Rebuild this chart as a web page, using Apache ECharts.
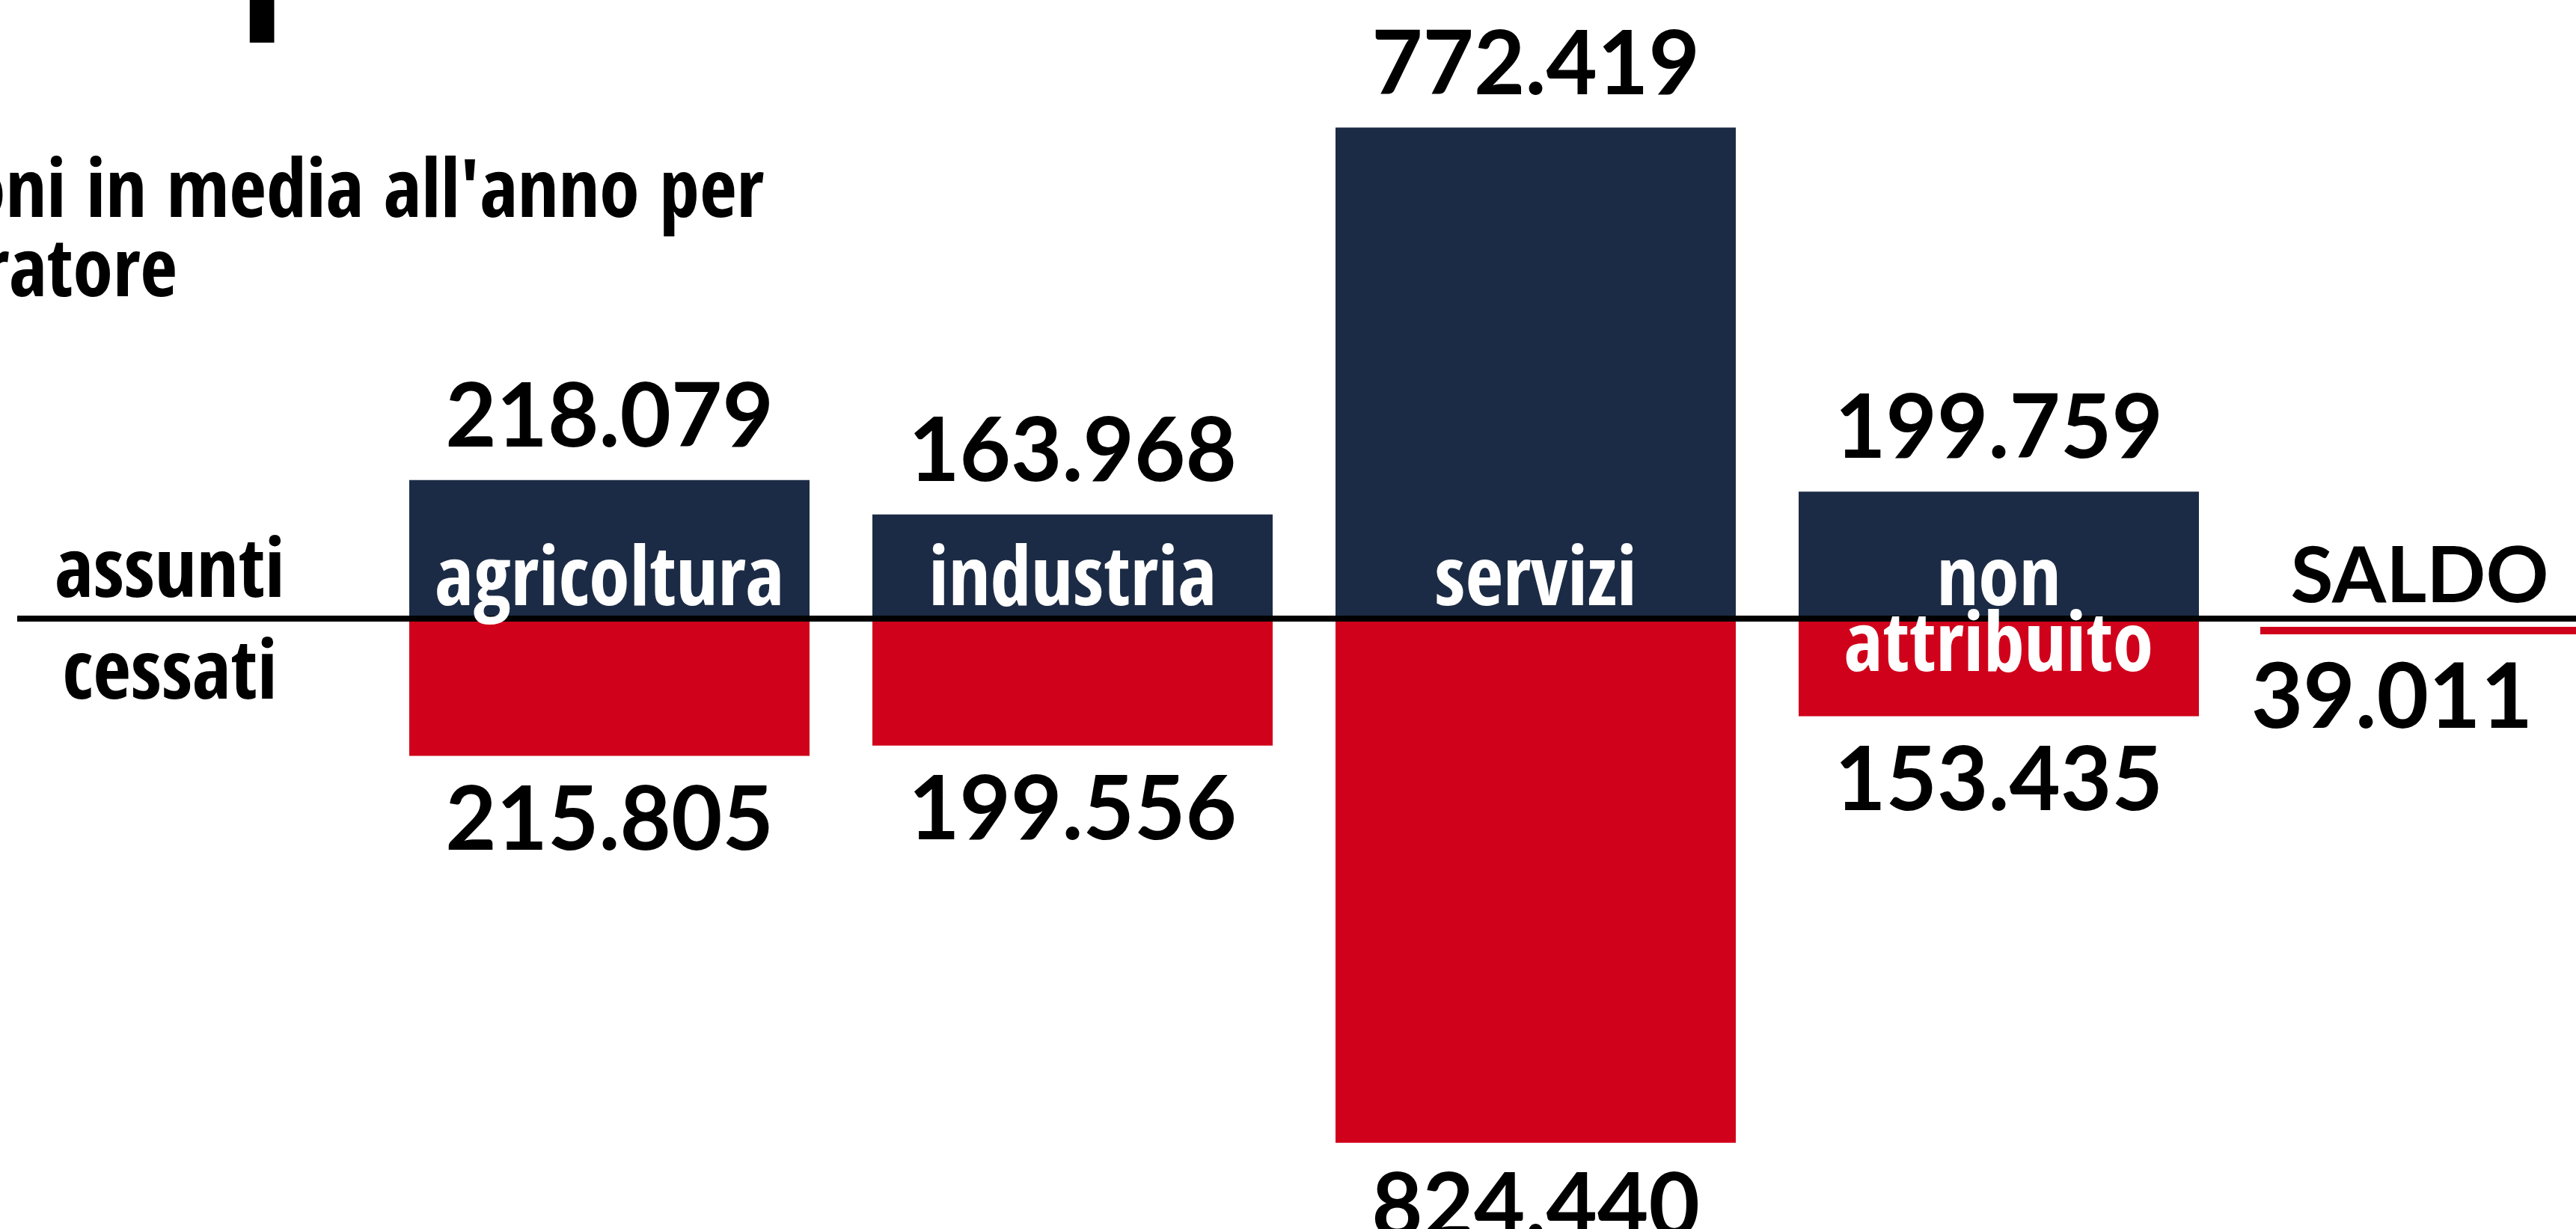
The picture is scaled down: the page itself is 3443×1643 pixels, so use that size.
<!DOCTYPE html>
<html>
<head>
<meta charset="utf-8">
<script src="https://cdn.jsdelivr.net/npm/echarts@6/dist/echarts.min.js"></script>
<style>
  html, body { margin: 0; padding: 0; background: #fff; }
  #chart { width: 3443px; height: 1643px; }
</style>
</head>
<body>
<div id="chart"></div>
<script>
// Settori e flussi medi annui (assunti / cessati)
const settori = ['agricoltura', 'industria', 'servizi', 'non attribuito'];
const assunti = [218079, 163968, 772419, 199759];
const cessati = [215805, 199556, 824440, 153435];

// Saldo complessivo: assunti meno cessati
const saldo = assunti.reduce((a, b) => a + b, 0) - cessati.reduce((a, b) => a + b, 0);

const NAVY = '#1c2b45';
const RED = '#d0021b';
const NUM_FONT = "Lato, 'Noto Sans', sans-serif";
const TXT_FONT = "'Open Sans Condensed', 'Noto Sans Condensed', 'Liberation Sans Narrow', Lato, sans-serif";
const TXT_WEIGHT = 'bold';
const NAME_FS = 110;

// Separatore delle migliaia all'italiana
function fmt(n) {
  return String(Math.abs(n)).replace(/\B(?=(\d{3})+(?!\d))/g, '.');
}

const chart = echarts.init(document.getElementById('chart'), null, { renderer: 'canvas' });

const valueLabel = {
  show: true,
  position: 'outside',
  fontFamily: NUM_FONT,
  fontWeight: 'bold',
  fontSize: 118,
  color: '#000',
  formatter: p => fmt(p.value)
};

const option = {
  animation: false,
  backgroundColor: '#fff',
  grid: { left: 505, right: 462, top: 0, bottom: 0 },
  xAxis: { type: 'category', data: settori, show: false },
  yAxis: { type: 'value', min: -960000, max: 973000, show: false },
  series: [
    {
      name: 'assunti', type: 'bar', stack: 'flussi', data: assunti,
      barWidth: 535, itemStyle: { color: NAVY },
      label: Object.assign({}, valueLabel, { distance: 24 })
    },
    {
      name: 'cessati', type: 'bar', stack: 'flussi', data: cessati.map(v => -v),
      barWidth: 535, itemStyle: { color: RED },
      label: Object.assign({}, valueLabel, { distance: 28 })
    },
    {
      // nomi dei settori a cavallo della linea dello zero
      name: 'settori', type: 'custom', z: 20,
      data: settori.map((_, i) => [i]),
      encode: { x: 0 },
      renderItem: (params, api) => {
        const i = api.value(0);
        const p = api.coord([i, 0]);
        const words = settori[i].split(' ');
        const fs = NAME_FS;
        const kids = [{
          type: 'text', x: p[0], y: p[1] - 12 - 0.32 * fs,
          style: { text: words[0], fill: '#fff', fontFamily: TXT_FONT, fontWeight: TXT_WEIGHT,
                   fontSize: fs, align: 'center', verticalAlign: 'middle' }
        }];
        if (words.length > 1) {
          kids.push({
            type: 'text', x: p[0], y: p[1] + 76 - 0.32 * fs,
            style: { text: words.slice(1).join(' '), fill: '#fff', fontFamily: TXT_FONT, fontWeight: TXT_WEIGHT,
                     fontSize: fs, align: 'center', verticalAlign: 'middle' }
          });
        }
        return { type: 'group', children: kids };
      }
    }
  ]
};

chart.setOption(option);

// Elementi di contorno ancorati alla linea dello zero
const z0 = chart.convertToPixel({ yAxisIndex: 0 }, 0);
const txt = (text, x, baseline, fs, font, align, weight) => ({
  type: 'text', x: x, y: baseline - 0.32 * fs, z: 30,
  style: { text: text, fill: '#000', fontFamily: font, fontWeight: weight || 'bold', fontSize: fs,
           align: align, verticalAlign: 'middle' }
});

chart.setOption({
  graphic: [
    { type: 'line', z: 10, shape: { x1: 23, y1: z0, x2: 3443, y2: z0 },
      style: { stroke: '#000', lineWidth: 8 } },
    txt('assunti', 227, z0 - 23, NAME_FS, TXT_FONT, 'center', TXT_WEIGHT),
    txt('cessati', 227, z0 + 113, NAME_FS, TXT_FONT, 'center', TXT_WEIGHT),
    txt('SALDO', 3234, z0 - 22, 104, NUM_FONT, 'center'),
    { type: 'line', z: 10, shape: { x1: 3021, y1: z0 + 16, x2: 3443, y2: z0 + 16 },
      style: { stroke: saldo < 0 ? RED : NAVY, lineWidth: 10 } },
    txt(fmt(saldo), 3197, z0 + 146, 120, NUM_FONT, 'center'),
    txt("Assunzioni e cessazioni in media all'anno per", 1021, 296, 108, TXT_FONT, 'right', TXT_WEIGHT),
    txt('lavoratore', 237, 402, 108, TXT_FONT, 'right', TXT_WEIGHT),
    txt('p', 320, 12, 250, TXT_FONT, 'left', TXT_WEIGHT)
  ]
});
</script>
</body>
</html>
